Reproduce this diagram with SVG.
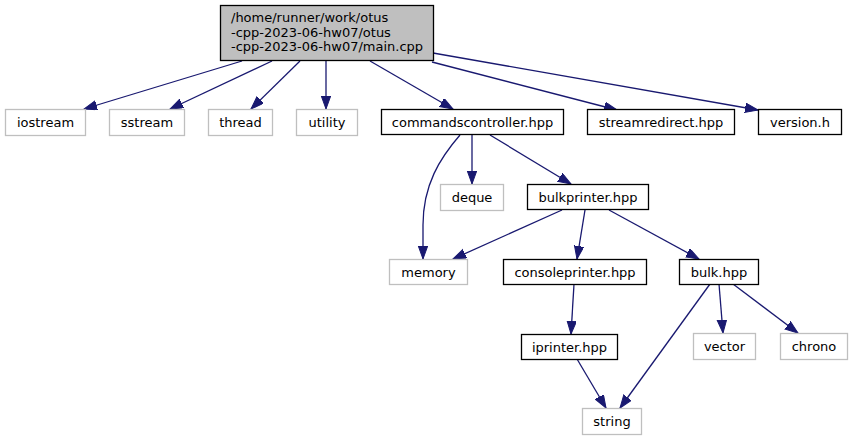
<svg xmlns="http://www.w3.org/2000/svg" width="852" height="440" viewBox="0 0 852 440">
<style>
text{font-family:"DejaVu Sans",sans-serif;font-size:13px;fill:#000}
.n text{text-anchor:middle}
.d rect{fill:#fff;stroke:#000;stroke-width:1.3}
.u rect{fill:#fff;stroke:#bfbfbf;stroke-width:1.3}
.e path{fill:none;stroke:#191970;stroke-width:1.3;marker-end:url(#ah)}
</style>
<defs>
<marker id="ah" markerUnits="userSpaceOnUse" markerWidth="15" markerHeight="11" refX="13" refY="4.7" orient="auto">
<path d="M0,0 L13,4.7 L0,9.4 z" fill="#191970" stroke="#191970" stroke-width="1"/>
</marker>
</defs>
<rect width="852" height="440" fill="#fff"/>
<g id="edges" class="e">
<path d="M242,61 L84,109"/>
<path d="M272,61 L170,109"/>
<path d="M300,61 L251,109"/>
<path d="M326,61 L326,109"/>
<path d="M370,61 L453,109"/>
<path d="M432,62 L617,110"/>
<path d="M433,53 L758,110"/>
<path d="M460,135 C440,158 423,185 423,225 L423,259"/>
<path d="M472,135 L472,184"/>
<path d="M490,135 L571,184"/>
<path d="M562,210 L453,259"/>
<path d="M585,210 L577,259"/>
<path d="M609,210 L699,259"/>
<path d="M574,284 L571,334"/>
<path d="M577,359 L606,408"/>
<path d="M710,284 L620,408"/>
<path d="M719,284 L723,333"/>
<path d="M733,284 L798,333"/>
</g>
<g id="main" class="n">
<rect x="220.5" y="5.5" width="213" height="55" fill="#bfbfbf" stroke="#000" stroke-width="1.3"/>
<text x="231" y="22" style="text-anchor:start">/home/runner/work/otus</text>
<text x="231" y="37" style="text-anchor:start">-cpp-2023-06-hw07/otus</text>
<text x="231" y="51" style="text-anchor:start">-cpp-2023-06-hw07/main.cpp</text>
</g>
<g id="iostream" class="n u"><rect x="5.5" y="109.5" width="80" height="26"/><text x="45.5" y="127">iostream</text></g>
<g id="sstream" class="n u"><rect x="109.5" y="109.5" width="75" height="26"/><text x="147" y="127">sstream</text></g>
<g id="thread" class="n u"><rect x="208.5" y="109.5" width="64" height="26"/><text x="240.5" y="127">thread</text></g>
<g id="utility" class="n u"><rect x="296.5" y="109.5" width="61" height="26"/><text x="327" y="127">utility</text></g>
<g id="commandscontroller" class="n d"><rect x="381.5" y="109.5" width="182" height="25"/><text x="472.5" y="127">commandscontroller.hpp</text></g>
<g id="streamredirect" class="n d"><rect x="587.5" y="109.5" width="147" height="25"/><text x="661" y="127">streamredirect.hpp</text></g>
<g id="version" class="n d"><rect x="758.5" y="109.5" width="83" height="25"/><text x="800" y="127">version.h</text></g>
<g id="deque" class="n u"><rect x="440.5" y="184.5" width="63" height="26"/><text x="472" y="202">deque</text></g>
<g id="bulkprinter" class="n d"><rect x="527.5" y="184.5" width="121" height="25"/><text x="588" y="202">bulkprinter.hpp</text></g>
<g id="memory" class="n u"><rect x="389.5" y="259.5" width="78" height="25"/><text x="428.5" y="277">memory</text></g>
<g id="consoleprinter" class="n d"><rect x="503.5" y="259.5" width="143" height="25"/><text x="575" y="277">consoleprinter.hpp</text></g>
<g id="bulk" class="n d"><rect x="679.5" y="259.5" width="79" height="25"/><text x="719" y="277">bulk.hpp</text></g>
<g id="iprinter" class="n d"><rect x="521.5" y="334.5" width="96" height="25"/><text x="569.5" y="352">iprinter.hpp</text></g>
<g id="vector" class="n u"><rect x="693.5" y="333.5" width="62" height="26"/><text x="724.5" y="351">vector</text></g>
<g id="chrono" class="n u"><rect x="780.5" y="333.5" width="67" height="26"/><text x="814" y="351">chrono</text></g>
<g id="string" class="n u"><rect x="582.5" y="408.5" width="59" height="26"/><text x="612" y="426">string</text></g>
</svg>
